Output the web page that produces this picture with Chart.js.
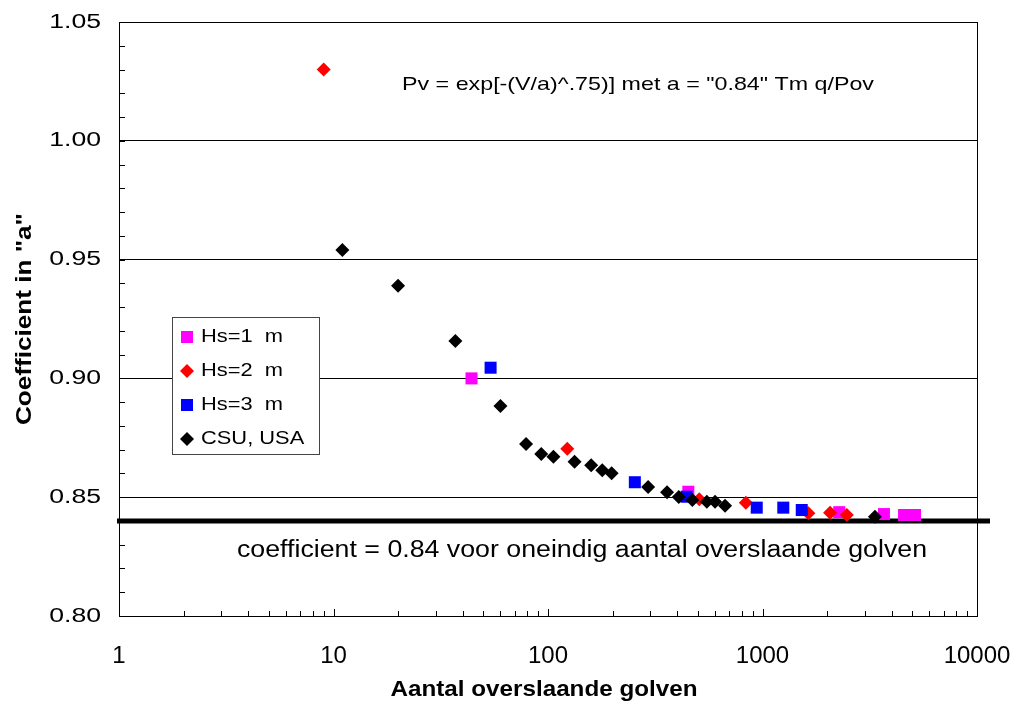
<!DOCTYPE html>
<html>
<head>
<meta charset="utf-8">
<script src="https://cdn.jsdelivr.net/npm/chart.js@4/dist/chart.umd.min.js"></script>
<style>
  html, body { margin: 0; padding: 0; background: #fff; }
  #wrap { width: 1012px; height: 704px; }
</style>
</head>
<body>
<div id="wrap"><canvas id="c" width="1012" height="704"></canvas></div>
<script>
// Number of overtopping waves (x) and fitted coefficient "a" (y) per series
const hs1Waves = [44, 451, 2280, 3683, 4570, 5140];
const hs1Coef  = [0.900, 0.8523, 0.8437, 0.8429, 0.8425, 0.8425];

const hs2Waves = [9, 123, 507, 836, 1636, 2065, 2472];
const hs2Coef  = [1.030, 0.8704, 0.8491, 0.8477, 0.8432, 0.8435, 0.8425];

const hs3Waves = [54, 254, 443, 940, 1250, 1524];
const hs3Coef  = [0.9045, 0.8563, 0.8502, 0.8456, 0.8456, 0.8446];

const csuWaves = [11, 20, 37, 60, 79, 93, 106, 133, 159, 179, 198, 293, 359, 407, 471, 550, 601, 669, 3343];
const csuCoef  = [0.954, 0.939, 0.9157, 0.8884, 0.8724, 0.8682, 0.8670, 0.8649, 0.8634, 0.8613, 0.8601,
                  0.8543, 0.8521, 0.8501, 0.8488, 0.8481, 0.8481, 0.8464, 0.8418];

const seriesLabels = ['Hs=1  m', 'Hs=2  m', 'Hs=3  m', 'CSU, USA'];

const xTickValues = [1, 10, 100, 1000, 10000];
const yTickValues = [0.80, 0.85, 0.90, 0.95, 1.00, 1.05];
const yMinorStep = 0.01;
const limitCoef = 0.84;

const formulaText = 'Pv = exp[-(V/a)^.75)] met a = "0.84" Tm q/Pov';
const limitText = 'coefficient = 0.84 voor oneindig aantal overslaande golven';
const xTitle = 'Aantal overslaande golven';
const yTitle = 'Coefficient in "a"';

const FONT = '"Liberation Sans", Arial, Helvetica, sans-serif';

function pairs(xs, ys) { return xs.map((x, i) => ({ x: x, y: ys[i] })); }

// Text helper: draws text with an optional horizontal stretch (fit to width)
function drawText(ctx, text, x, y, font, opts) {
  opts = opts || {};
  ctx.save();
  ctx.font = font;
  ctx.fillStyle = opts.color || '#000';
  const w = ctx.measureText(text).width;
  let sx = opts.scaleX || 1;
  if (opts.width) sx = opts.width / w;
  ctx.translate(x, y);
  if (opts.rotate) ctx.rotate(-Math.PI / 2);
  ctx.scale(sx, 1);
  ctx.textAlign = opts.align || 'center';
  ctx.textBaseline = 'middle';
  ctx.fillText(text, 0, 0);
  ctx.restore();
}

function drawMarker(ctx, style, color, x, y, r) {
  ctx.save();
  ctx.fillStyle = color;
  ctx.beginPath();
  if (style === 'rect') {
    ctx.rect(x - r, y - r, 2 * r, 2 * r);
  } else {
    ctx.moveTo(x - r, y); ctx.lineTo(x, y - r); ctx.lineTo(x + r, y); ctx.lineTo(x, y + r); ctx.closePath();
  }
  ctx.fill();
  ctx.restore();
}

const framePlugin = {
  id: 'frame',
  beforeDatasetsDraw(chart) {
    const { ctx, chartArea: a, scales } = chart;
    const xs = scales.x, ys = scales.y;
    ctx.save();
    ctx.strokeStyle = '#000';
    ctx.lineWidth = 1;
    ctx.strokeRect(Math.round(a.left) + 0.5, Math.round(a.top) + 0.5,
                   Math.round(a.right - a.left), Math.round(a.bottom - a.top));
    // minor y ticks, pointing into the plot
    ctx.beginPath();
    const yMin = ys.min, yMax = ys.max;
    for (let v = yMin; v <= yMax + 1e-9; v += yMinorStep) {
      const py = Math.round(ys.getPixelForValue(v)) + 0.5;
      ctx.moveTo(a.left, py); ctx.lineTo(a.left + 6, py);
    }
    // x ticks on the log axis, pointing up
    for (let d = 1; d < xs.max; d *= 10) {
      for (let m = 1; m <= 10; m++) {
        const v = d * m;
        if (v < xs.min || v > xs.max) continue;
        const px = Math.round(xs.getPixelForValue(v)) + 0.5;
        const len = (m === 1 || m === 10) ? 7 : 5;
        ctx.moveTo(px, a.bottom); ctx.lineTo(px, a.bottom - len);
      }
    }
    ctx.stroke();
    // asymptote line
    const py = ys.getPixelForValue(limitCoef);
    ctx.lineWidth = 5;
    ctx.beginPath();
    ctx.moveTo(a.left - 2, py);
    ctx.lineTo(a.right + 13, py);
    ctx.stroke();
    ctx.restore();
  },
  afterDraw(chart) {
    const { ctx, chartArea: a, scales } = chart;
    const ys = scales.y;
    // y tick labels
    ys.ticks.forEach(t => {
      drawText(ctx, t.value.toFixed(2), a.left - 18, ys.getPixelForValue(t.value), '20px ' + FONT,
               { align: 'right', scaleX: 1.33 });
    });
    // axis titles
    drawText(ctx, yTitle, 25, 319, 'bold 22px ' + FONT, { rotate: true, width: 212 });
    drawText(ctx, xTitle, 544, 690, 'bold 22px ' + FONT, { width: 307 });
    // annotations
    drawText(ctx, formulaText, 402, 85, '19px ' + FONT, { align: 'left', width: 472 });
    drawText(ctx, limitText, 237, 551, '23px ' + FONT, { align: 'left', width: 690 });

    // legend
    const bx = 172.5, by = 317.5, bw = 147, bh = 137;
    ctx.save();
    ctx.fillStyle = '#fff';
    ctx.fillRect(bx, by, bw, bh);
    ctx.strokeStyle = '#444';
    ctx.lineWidth = 1;
    ctx.strokeRect(bx, by, bw, bh);
    ctx.restore();
    const rows = [337, 371, 405, 439];
    chart.data.datasets.forEach((ds, i) => {
      const y = rows[i];
      if (ds.pointStyle === 'rect') drawMarker(ctx, 'rect', ds.backgroundColor, 187, y, 6);
      else drawMarker(ctx, 'diamond', ds.backgroundColor, 187, y, 7);
      drawText(ctx, ds.label, 201, y, '19px ' + FONT, { align: 'left', scaleX: 1.15 });
    });
  }
};

const datasets = [
  { label: seriesLabels[0], data: pairs(hs1Waves, hs1Coef), pointStyle: 'rect', pointRadius: 8.5,
    backgroundColor: '#FF00FF', borderColor: '#FF00FF', borderWidth: 0, order: 3 },
  { label: seriesLabels[1], data: pairs(hs2Waves, hs2Coef), pointStyle: 'rectRot', pointRadius: 7,
    backgroundColor: '#FF0000', borderColor: '#FF0000', borderWidth: 0, order: 2 },
  { label: seriesLabels[2], data: pairs(hs3Waves, hs3Coef), pointStyle: 'rect', pointRadius: 8.5,
    backgroundColor: '#0000FF', borderColor: '#0000FF', borderWidth: 0, order: 1 },
  { label: seriesLabels[3], data: pairs(csuWaves, csuCoef), pointStyle: 'rectRot', pointRadius: 7,
    backgroundColor: '#000000', borderColor: '#000000', borderWidth: 0, order: 0 }
];

new Chart(document.getElementById('c'), {
  type: 'scatter',
  data: { datasets: datasets },
  plugins: [framePlugin],
  options: {
    responsive: false,
    animation: false,
    events: [],
    layout: { padding: { top: 22, right: 35, left: 0, bottom: 0 } },
    plugins: { legend: { display: false }, tooltip: { enabled: false } },
    scales: {
      x: {
        type: 'logarithmic',
        min: 1, max: 10000,
        grid: { display: false, drawTicks: false },
        border: { display: false },
        ticks: {
          color: '#000', font: { size: 24, family: FONT }, padding: 26,
          autoSkip: false, maxRotation: 0, minRotation: 0,
          callback: v => String(v)
        },
        afterBuildTicks: s => { s.ticks = xTickValues.map(v => ({ value: v })); },
        afterFit: s => { s.height = 88; s.paddingLeft = 0; s.paddingRight = 0; }
      },
      y: {
        min: 0.80, max: 1.05,
        grid: { color: '#000', lineWidth: 1, drawTicks: false },
        border: { display: false },
        ticks: { display: false },
        afterBuildTicks: s => { s.ticks = yTickValues.map(v => ({ value: v })); },
        afterFit: s => { s.width = 119; s.paddingTop = 0; s.paddingBottom = 0; }
      }
    }
  }
});
</script>
</body>
</html>
